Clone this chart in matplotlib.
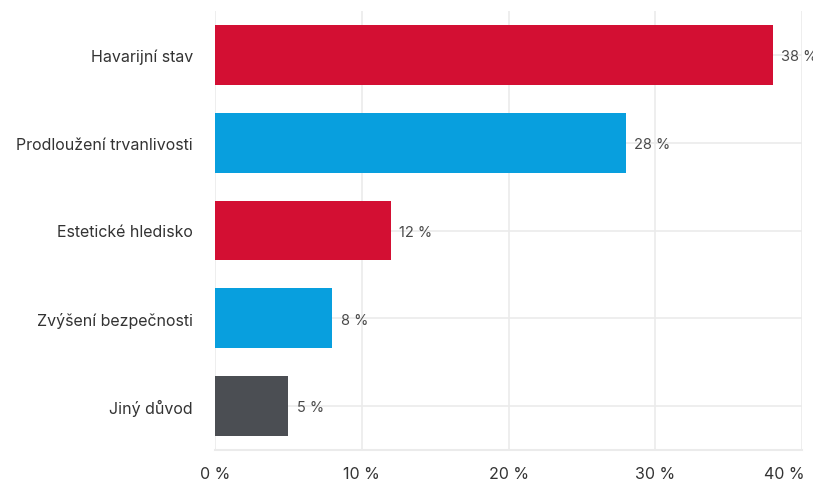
import matplotlib
matplotlib.use("Agg")
import matplotlib.pyplot as plt
import matplotlib.transforms as mtransforms

categories = ["Havarijní stav", "Prodloužení trvanlivosti", "Estetické hledisko",
              "Zvýšení bezpečnosti", "Jiný důvod"]
values = [38, 28, 12, 8, 5]
colors = ["#D30F33", "#089FDE", "#D30F33", "#089FDE", "#4B4E53"]
xticks = [0, 10, 20, 30, 40]

plt.rcParams['font.family'] = ['Inter', 'DejaVu Sans']

fig = plt.figure(figsize=(8.13, 4.81), dpi=100)
ax = fig.add_axes([215/813, 30/481, (802-215)/813, (451-12)/481])

grid_c = "#EBEBEB"
ypos = list(range(len(categories)))
for y in ypos:
    ax.axhline(y, color=grid_c, lw=1.2, zorder=0)
for x in xticks:
    ax.axvline(x, color=grid_c, lw=1.2, zorder=0)

ax.barh(ypos, values, height=0.68, color=colors, zorder=2)
for y, v in zip(ypos, values):
    ax.annotate(f"{v} %", xy=(v, y), xytext=(6, -1), textcoords="offset points",
                va="center", ha="left", fontsize=10.5, color="#4a4a4a",
                annotation_clip=False, zorder=3)

ax.set_xlim(0, 40)
ax.set_ylim(len(categories) - 0.5, -0.5)
ax.set_yticks(ypos)
ax.set_yticklabels(categories)
ax.set_xticks(xticks)
ax.set_xticklabels([f"{t} %" for t in xticks])
for s in ["top", "right", "left"]:
    ax.spines[s].set_visible(False)
ax.spines["bottom"].set_color(grid_c)
ax.spines["bottom"].set_linewidth(1.5)
ax.tick_params(axis="both", length=0, labelsize=11.5, labelcolor="#333333")
ax.tick_params(axis="x", pad=11.5)
ax.tick_params(axis="y", pad=16)

last = ax.get_xticklabels()[-1]
last.set_horizontalalignment("right")
last.set_transform(last.get_transform() +
                   mtransforms.ScaledTranslation(3/100, 0, fig.dpi_scale_trans))

fig.savefig("out.png", dpi=100)
